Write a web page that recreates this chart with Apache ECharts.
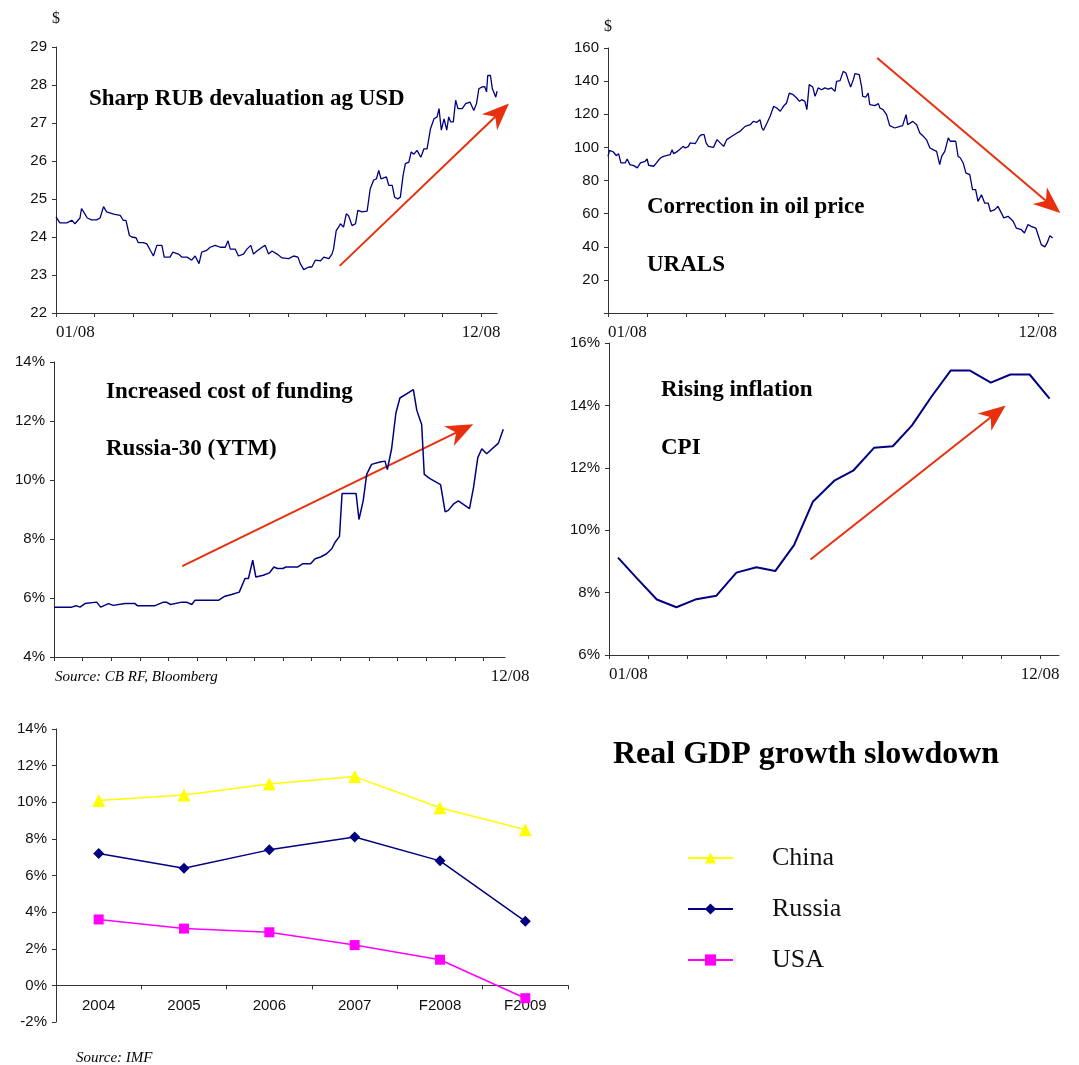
<!DOCTYPE html>
<html>
<head>
<meta charset="utf-8">
<script src="https://cdn.jsdelivr.net/npm/echarts@6/dist/echarts.min.js"></script>
<style>
  html, body { margin: 0; padding: 0; background: #fff; }
  #main { width: 1079px; height: 1065px; }
</style>
</head>
<body>
<div id="main"></div>
<script>
// x = months since 1 Jan 2008
const rubUsd = [
  [0,24.53],[0.1,24.37],[0.28,24.37],[0.41,24.44],[0.49,24.35],[0.54,24.3],[0.62,24.5],[0.66,24.75],
  [0.75,24.6],[0.81,24.5],[0.92,24.45],[1.05,24.45],[1.14,24.5],[1.23,24.8],[1.31,24.66],[1.49,24.6],
  [1.66,24.57],[1.74,24.44],[1.81,24.44],[1.9,24.04],[1.96,24.0],[2.07,23.98],[2.13,23.85],[2.26,23.85],
  [2.35,23.82],[2.44,23.65],[2.52,23.5],[2.61,23.78],[2.74,23.78],[2.8,23.47],[2.95,23.47],[3.02,23.6],
  [3.17,23.55],[3.26,23.47],[3.39,23.47],[3.51,23.39],[3.6,23.5],[3.7,23.3],[3.77,23.6],[3.9,23.65],
  [3.99,23.73],[4.12,23.78],[4.25,23.73],[4.38,23.73],[4.45,23.9],[4.51,23.68],[4.64,23.68],[4.72,23.5],
  [4.85,23.55],[4.94,23.68],[5.04,23.78],[5.11,23.55],[5.2,23.63],[5.33,23.73],[5.41,23.78],[5.5,23.55],
  [5.59,23.63],[5.72,23.55],[5.85,23.45],[6.02,23.43],[6.15,23.5],[6.26,23.47],[6.32,23.3],[6.41,23.14],
  [6.54,23.21],[6.62,23.21],[6.71,23.39],[6.84,23.37],[6.93,23.47],[7.06,23.43],[7.14,23.55],[7.18,23.68],
  [7.25,24.17],[7.31,24.26],[7.36,24.35],[7.44,24.26],[7.51,24.61],[7.57,24.56],[7.66,24.3],[7.75,24.35],
  [7.81,24.7],[7.92,24.66],[8.05,24.68],[8.13,25.27],[8.22,25.5],[8.29,25.53],[8.35,25.75],[8.41,25.53],
  [8.55,25.58],[8.61,25.36],[8.7,25.36],[8.76,25.05],[8.84,25.0],[8.91,25.05],[8.98,25.62],[9.04,25.93],
  [9.13,25.97],[9.19,26.24],[9.26,26.18],[9.34,26.28],[9.44,26.1],[9.52,26.32],[9.6,26.32],[9.69,26.85],
  [9.78,27.11],[9.86,27.16],[9.91,27.38],[9.97,26.81],[10.04,27.11],[10.11,26.81],[10.16,27.16],[10.21,27.03],
  [10.28,27.03],[10.34,27.6],[10.4,27.38],[10.51,27.38],[10.6,27.51],[10.71,27.55],[10.81,27.33],[10.88,27.51],
  [10.94,27.9],[11.03,27.95],[11.09,27.96],[11.14,27.82],[11.17,28.25],[11.24,28.25],[11.29,27.9],[11.33,27.95],
  [11.38,27.68],[11.41,27.84]
];
const urals = [
  [0,94.6],[0.04,98.2],[0.14,97.2],[0.21,95],[0.27,96.2],[0.33,90.6],[0.44,90.6],[0.49,93],[0.56,89.6],
  [0.66,89],[0.75,87.6],[0.83,90.6],[0.95,91.6],[1.0,93],[1.04,89.2],[1.17,88.6],[1.24,90.6],[1.34,93.6],
  [1.42,94.6],[1.49,95],[1.59,95.6],[1.64,98.6],[1.68,96.2],[1.78,97.6],[1.85,99],[1.92,100.6],[1.98,99.6],
  [2.06,100.6],[2.1,102.7],[2.23,102.3],[2.27,103.7],[2.34,106.7],[2.4,107.7],[2.46,107.7],[2.51,102.7],
  [2.57,100.6],[2.7,100],[2.79,104.7],[2.87,102.7],[2.96,100.6],[3.04,104.7],[3.17,106.7],[3.3,108.7],
  [3.38,109.7],[3.51,112.7],[3.64,113.7],[3.72,115.7],[3.81,115.1],[3.89,116.7],[3.94,111.7],[3.98,110.3],
  [4.07,114.7],[4.15,118.8],[4.24,124.8],[4.32,123.8],[4.41,121.8],[4.49,124.8],[4.57,126.8],[4.64,132.8],
  [4.74,131.8],[4.83,129.8],[4.9,127.8],[4.96,128.8],[5.04,127.8],[5.09,122.8],[5.15,137.9],[5.24,136.5],
  [5.3,130.8],[5.38,135.9],[5.47,134.8],[5.55,135.9],[5.64,135.2],[5.72,135.9],[5.81,133.8],[5.85,139.9],
  [5.94,140.3],[6.02,145.9],[6.09,144.9],[6.15,140.5],[6.21,136.5],[6.28,140.9],[6.32,144.5],[6.43,143.9],
  [6.49,136.9],[6.52,130.8],[6.6,130.4],[6.66,132.8],[6.7,125.8],[6.83,125.2],[6.92,126.4],[6.96,123.8],
  [7.04,122.8],[7.13,119.8],[7.21,113.1],[7.34,111.7],[7.47,112.7],[7.54,113.1],[7.63,119.8],[7.67,113.7],
  [7.8,115.7],[7.9,113.7],[7.98,108.7],[8.07,106.7],[8.15,104.7],[8.24,99.6],[8.32,98.6],[8.41,97.6],
  [8.49,89.6],[8.54,94.6],[8.62,97.6],[8.71,105.7],[8.76,103.7],[8.83,103.7],[8.9,103.7],[8.96,94.6],
  [9.02,93.6],[9.09,90.6],[9.16,84.6],[9.26,83.5],[9.33,74.5],[9.41,74.5],[9.47,67.4],[9.56,71.4],
  [9.64,66.4],[9.73,66.4],[9.79,61.4],[9.9,62.4],[9.98,64.4],[10.09,59.4],[10.13,57.4],[10.24,58.4],
  [10.37,55.4],[10.45,51.3],[10.58,50.3],[10.66,48.3],[10.75,53.4],[10.83,52.3],[10.95,51.3],[11.02,46.3],
  [11.09,41.3],[11.18,39.9],[11.24,42.3],[11.31,46.7],[11.38,45.3]
];
// Russia-30 YTM, x = tick units of the bottom axis
const russia30 = [
  [0,5.69],[0.62,5.69],[0.77,5.74],[0.91,5.69],[1.08,5.81],[1.49,5.86],[1.63,5.69],[1.9,5.81],[2.07,5.75],
  [2.48,5.81],[2.83,5.81],[2.91,5.74],[3.53,5.74],[3.82,5.86],[3.93,5.86],[4.07,5.78],[4.46,5.86],[4.63,5.86],
  [4.81,5.78],[4.92,5.92],[5.74,5.92],[5.97,6.06],[6.2,6.12],[6.47,6.2],[6.67,6.66],[6.79,6.66],[6.94,7.28],
  [7.05,6.71],[7.31,6.77],[7.52,6.85],[7.68,7.05],[7.8,7.0],[7.99,7.0],[8.1,7.05],[8.5,7.05],[8.68,7.16],
  [8.96,7.16],[9.12,7.33],[9.31,7.39],[9.52,7.5],[9.7,7.67],[9.81,7.88],[9.97,8.09],[10.06,9.54],[10.55,9.54],
  [10.65,8.66],[10.8,9.31],[10.92,10.19],[11.09,10.53],[11.38,10.61],[11.56,10.64],[11.64,10.35],[11.79,11.06],
  [11.94,12.27],[12.08,12.78],[12.55,13.06],[12.67,12.36],[12.84,11.88],[12.93,10.19],[13.13,10.05],[13.5,9.84],
  [13.66,8.92],[13.77,8.97],[13.97,9.2],[14.12,9.29],[14.51,9.03],[14.65,9.74],[14.8,10.76],[14.94,11.06],
  [15.11,10.89],[15.52,11.25],[15.69,11.72]
];
const cpi = [
  [0.23,9.12],[0.72,8.45],[1.22,7.78],[1.72,7.53],[2.23,7.79],[2.74,7.9],[3.25,8.64],[3.76,8.81],
  [4.24,8.69],[4.72,9.52],[5.2,10.91],[5.76,11.6],[6.24,11.92],[6.76,12.64],[7.24,12.69],[7.73,13.36],
  [8.22,14.27],[8.72,15.12],[9.2,15.12],[9.74,14.73],[10.24,14.99],[10.73,14.99],[11.24,14.22]
];
const gdpYears = ['2004', '2005', '2006', '2007', 'F2008', 'F2009'];
const gdpChina = [10.1, 10.4, 11.0, 11.4, 9.7, 8.5];
const gdpRussia = [7.2, 6.4, 7.4, 8.1, 6.8, 3.5];
const gdpUsa = [3.6, 3.1, 2.9, 2.2, 1.4, -0.7];

const monthTicks = [0, 1, 2, 3, 4, 5, 6, 7, 8, 9, 10, 11];
const monthLabelPos = [0, 11];
const monthLabelText = ['01/08', '12/08'];
const ytmTicks = [0, 1, 2, 3, 4, 5, 6, 7, 8, 9, 10, 11, 12, 13, 14, 15];
const ytmLabelPos = [15.25];
const ytmLabelText = ['12/08'];

// trend arrows, [grid, from, to] in data units
const arrows = [
  [0, [7.34, 23.24], [11.72, 27.51]],
  [1, [6.89, 154], [11.58, 60.4]],
  [2, [4.48, 7.08], [14.64, 11.89]],
  [3, [5.14, 9.06], [10.12, 14.0]]
];

const SANS = '"Liberation Sans", Arial, sans-serif';
const SERIF = '"Liberation Serif", "Times New Roman", serif';
const AX = '#333';
const NAVY = '#000080';
const RED = '#e8300e';

function xDate(grid, max, ticks, labelPos, labelText) {
  return {
    type: 'value', gridIndex: grid, min: 0, max: max,
    axisLine: { show: true, onZero: false, lineStyle: { color: AX } },
    axisTick: { show: true, customValues: ticks, length: 4, lineStyle: { color: AX } },
    axisLabel: {
      customValues: labelPos,
      formatter: v => labelText[labelPos.indexOf(v)] || '',
      fontFamily: SERIF, fontSize: 17, color: '#111', margin: 11,
      alignMinLabel: 'left'
    },
    splitLine: { show: false }
  };
}

function yVal(grid, min, max, interval, fmt, name, nameGap) {
  return {
    type: 'value', gridIndex: grid, min: min, max: max, interval: interval,
    name: name || '', nameGap: nameGap || 10,
    nameTextStyle: { fontFamily: SERIF, fontSize: 16, color: '#111', align: 'center' },
    axisLine: { show: true, lineStyle: { color: AX } },
    axisTick: { show: true, length: 4, lineStyle: { color: AX } },
    axisLabel: { formatter: fmt, fontFamily: SANS, fontSize: 15, color: '#111', margin: 9 },
    splitLine: { show: false }
  };
}

const pct = v => v + '%';

const gdpMin = -2, gdpMax = 14, gdpH = 293;

const chart = echarts.init(document.getElementById('main'), null, { renderer: 'canvas' });

const option = {
  animation: false,
  backgroundColor: '#fff',
  grid: [
    { left: 56, top: 47, width: 441, height: 266 },
    { left: 608, top: 48, width: 445, height: 265 },
    { left: 54, top: 362, width: 451, height: 295 },
    { left: 609, top: 343, width: 450, height: 312 },
    { left: 56, top: 729, width: 512, height: gdpH }
  ],
  xAxis: [
    xDate(0, 11.41, monthTicks, monthLabelPos, monthLabelText),
    xDate(1, 11.39, monthTicks, monthLabelPos, monthLabelText),
    xDate(2, 15.75, ytmTicks, ytmLabelPos, ytmLabelText),
    xDate(3, 11.48, monthTicks, monthLabelPos, monthLabelText),
    {
      // sits on the 0% line, labels right under it
      type: 'category', gridIndex: 4, data: gdpYears, boundaryGap: true,
      offset: -gdpH * (0 - gdpMin) / (gdpMax - gdpMin),
      axisLine: { show: true, onZero: false, lineStyle: { color: AX } },
      axisTick: { show: true, length: 4, lineStyle: { color: AX } },
      axisLabel: { fontFamily: SANS, fontSize: 15, color: '#111', margin: 13 },
      splitLine: { show: false }
    }
  ],
  yAxis: [
    yVal(0, 22, 29, 1, null, '$', 20),
    yVal(1, 0, 160, 20, v => (v === 0 ? '' : v), '$', 13),
    yVal(2, 4, 14, 2, pct),
    yVal(3, 6, 16, 2, pct),
    yVal(4, gdpMin, gdpMax, 2, pct)
  ],
  legend: {
    data: ['China', 'Russia', 'USA'],
    orient: 'vertical', left: 682, top: 840,
    itemWidth: 45, itemHeight: 14, itemGap: 25,
    textStyle: { fontFamily: SERIF, fontSize: 26, color: '#111', padding: [0, 0, 0, 34] }
  },
  series: [
    { type: 'line', xAxisIndex: 0, yAxisIndex: 0, data: rubUsd, showSymbol: false, silent: true,
      lineStyle: { color: NAVY, width: 1.3 } },
    { type: 'line', xAxisIndex: 1, yAxisIndex: 1, data: urals, showSymbol: false, silent: true,
      lineStyle: { color: NAVY, width: 1.3 } },
    { type: 'line', xAxisIndex: 2, yAxisIndex: 2, data: russia30, showSymbol: false, silent: true,
      lineStyle: { color: NAVY, width: 1.5 } },
    { type: 'line', xAxisIndex: 3, yAxisIndex: 3, data: cpi, showSymbol: false, silent: true,
      lineStyle: { color: NAVY, width: 2 } },
    { name: 'China', type: 'line', xAxisIndex: 4, yAxisIndex: 4, data: gdpChina,
      symbol: 'triangle', symbolSize: 13, itemStyle: { color: '#ffff00' },
      lineStyle: { color: '#ffff00', width: 1.5 } },
    { name: 'Russia', type: 'line', xAxisIndex: 4, yAxisIndex: 4, data: gdpRussia,
      symbol: 'diamond', symbolSize: 11, itemStyle: { color: NAVY },
      lineStyle: { color: NAVY, width: 1.5 } },
    { name: 'USA', type: 'line', xAxisIndex: 4, yAxisIndex: 4, data: gdpUsa,
      symbol: 'rect', symbolSize: 10, itemStyle: { color: '#ff00ff' },
      lineStyle: { color: '#ff00ff', width: 1.5 } }
  ]
};
chart.setOption(option);

// annotation texts
function label(x, y, text, font) {
  return { type: 'text', x: x, y: y, silent: true,
    style: { text: text, font: font, fill: '#000', verticalAlign: 'middle' } };
}
const BOLD = 'bold 23px ' + SERIF;
const ITAL = 'italic 15px ' + SERIF;
const graphics = [
  label(89, 99, 'Sharp RUB devaluation ag USD', BOLD),
  label(647, 207, 'Correction in oil price', BOLD),
  label(647, 265, 'URALS', BOLD),
  label(106, 392, 'Increased cost of funding', BOLD),
  label(106, 449, 'Russia-30 (YTM)', BOLD),
  label(661, 390, 'Rising inflation', BOLD),
  label(661, 448, 'CPI', BOLD),
  label(55, 677, 'Source: CB RF, Bloomberg', ITAL),
  label(76, 1058, 'Source: IMF', ITAL),
  label(613, 755, 'Real GDP growth slowdown', 'bold 32px ' + SERIF)
];

// red trend arrows
arrows.forEach(a => {
  const p0 = chart.convertToPixel({ gridIndex: a[0] }, a[1]);
  const p1 = chart.convertToPixel({ gridIndex: a[0] }, a[2]);
  const ang = Math.atan2(p1[1] - p0[1], p1[0] - p0[0]);
  const ux = Math.cos(ang), uy = Math.sin(ang);
  const nx = -uy, ny = ux;
  const L = 27, W = 11, N = 19;
  const back = [p1[0] - ux * L, p1[1] - uy * L];
  const mid = [p1[0] - ux * N, p1[1] - uy * N];
  graphics.push({ type: 'line', silent: true,
    shape: { x1: p0[0], y1: p0[1], x2: mid[0], y2: mid[1] },
    style: { stroke: RED, lineWidth: 2 } });
  graphics.push({ type: 'polygon', silent: true,
    shape: { points: [p1, [back[0] + nx * W, back[1] + ny * W], mid, [back[0] - nx * W, back[1] - ny * W]] },
    style: { fill: RED } });
});
chart.setOption({ graphic: graphics });
</script>
</body>
</html>
